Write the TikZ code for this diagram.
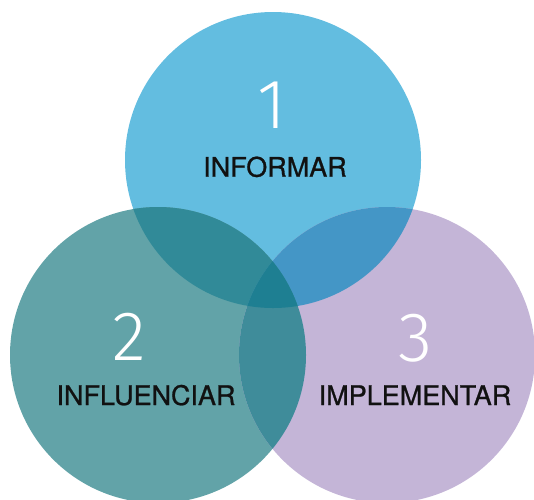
\documentclass[tikz,border=0pt]{standalone}
\usepackage{fontspec}
\setmainfont{TeX Gyre Heros}
\newfontfamily\digitfont{Fira Sans Light}
\newfontfamily\labelfont{TeX Gyre Heros}[BoldFont={TeX Gyre Heros}, BoldFeatures={FakeBold=0.9}]
\definecolor{colTop}{HTML}{63BDE0}
\definecolor{colLeft}{HTML}{62A3A8}
\definecolor{colRight}{HTML}{C4B5D7}
\definecolor{colTL}{HTML}{318A98}
\definecolor{colTR}{HTML}{4496C6}
\definecolor{colLR}{HTML}{3F8C9A}
\definecolor{colAll}{HTML}{1E7F92}
\definecolor{labelcol}{HTML}{111111}
\tikzset{
  digit/.style={anchor=base, text=white, inner sep=0pt, font=\digitfont\fontsize{70}{70}\selectfont},
  label/.style={anchor=base, text=labelcol, inner sep=0pt, font=\labelfont\bfseries\fontsize{27}{27}\selectfont}
}
\begin{document}
\begin{tikzpicture}[x=1pt,y=-1pt]
\useasboundingbox (0,0) rectangle (534,499);
\clip (0,0) rectangle (534,499);
\coordinate (cT) at (273,160);
\coordinate (cL) at (158,355);
\coordinate (cR) at (387,355);
% base circles
\fill[colTop] (cT) circle[radius=148];
\fill[colLeft] (cL) circle[radius=148];
\fill[colRight] (cR) circle[radius=148];
% pairwise overlaps
\begin{scope}
  \clip (cT) circle[radius=148];
  \fill[colTL] (cL) circle[radius=148];
\end{scope}
\begin{scope}
  \clip (cT) circle[radius=148];
  \fill[colTR] (cR) circle[radius=148];
\end{scope}
\begin{scope}
  \clip (cL) circle[radius=148];
  \fill[colLR] (cR) circle[radius=148];
\end{scope}
% triple overlap
\begin{scope}
  \clip (cT) circle[radius=148];
  \clip (cL) circle[radius=148];
  \fill[colAll] (cR) circle[radius=148];
\end{scope}
% texts
\node[digit] (n1) at (272,128) {1};
\node[label] (t1) at (275,176.7) {INFORMAR};
\node[digit] (n2) at (129,360) {2};
\node[label] (t2) at (146,405) {INFLUENCIAR};
\node[digit] (n3) at (416,361) {3};
\node[label] (t3) at (415,405) {IMPLEMENTAR};
\end{tikzpicture}
\end{document}
